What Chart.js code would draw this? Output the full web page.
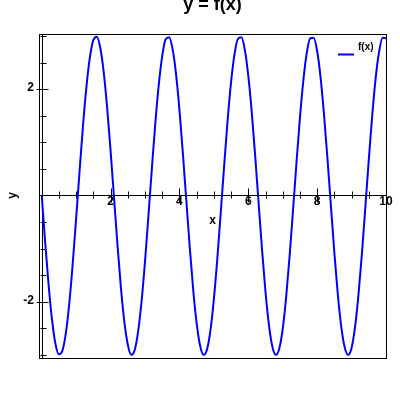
<!DOCTYPE html>
<html>
<head>
<meta charset="utf-8">
<script src="https://cdn.jsdelivr.net/npm/chart.js@4/dist/chart.umd.min.js"></script>
<style>
  html, body { margin: 0; padding: 0; background: #fff; }
</style>
</head>
<body>
<canvas id="plot" width="400" height="400"></canvas>
<script>
// values
const xValues = [
  0, 0.1, 0.2, 0.3, 0.4, 0.5, 0.6, 0.7, 0.8, 0.9,
  1, 1.1, 1.2, 1.3, 1.4, 1.5, 1.6, 1.7, 1.8, 1.9,
  2, 2.1, 2.2, 2.3, 2.4, 2.5, 2.6, 2.7, 2.8, 2.9,
  3, 3.1, 3.2, 3.3, 3.4, 3.5, 3.6, 3.7, 3.8, 3.9,
  4, 4.1, 4.2, 4.3, 4.4, 4.5, 4.6, 4.7, 4.8, 4.9,
  5, 5.1, 5.2, 5.3, 5.4, 5.5, 5.6, 5.7, 5.8, 5.9,
  6, 6.1, 6.2, 6.3, 6.4, 6.5, 6.6, 6.7, 6.8, 6.9,
  7, 7.1, 7.2, 7.3, 7.4, 7.5, 7.6, 7.7, 7.8, 7.9,
  8, 8.1, 8.2, 8.3, 8.4, 8.5, 8.6, 8.7, 8.8, 8.9,
  9, 9.1, 9.2, 9.3, 9.4, 9.5, 9.6, 9.7, 9.8, 9.9,
  10
];
const yValues = [
  0, -0.89, -1.69, -2.35, -2.80, -2.99, -2.92, -2.59, -2.03, -1.28,
  -0.42, 0.47, 1.33, 2.06, 2.61, 2.93, 2.99, 2.78, 2.32, 1.65,
  0.84, -0.05, -0.93, -1.74, -2.38, -2.81, -3.00, -2.91, -2.56, -1.99,
  -1.24, -0.37, 0.52, 1.37, 2.09, 2.63, 2.94, 2.98, 2.76, 2.29,
  1.61, 0.79, -0.10, -0.98, -1.78, -2.41, -2.83, -3.00, -2.90, -2.54,
  -1.95, -1.19, -0.32, 0.57, 1.42, 2.14, 2.66, 2.95, 2.98, 2.74,
  2.25, 1.57, 0.74, -0.15, -1.03, -1.82, -2.44, -2.85, -3.00, -2.88,
  -2.51, -1.91, -1.14, -0.27, 0.62, 1.46, 2.17, 2.69, 2.96, 2.97,
  2.72, 2.22, 1.52, 0.69, -0.20, -1.08, -1.86, -2.47, -2.86, -3.00,
  -2.87, -2.48, -1.87, -1.10, -0.22, 0.67, 1.51, 2.21, 2.71, 2.97,
  2.96
];
const xTickLabels = [2, 4, 6, 8, 10];
const yTickLabels = [2, -2];
const seriesName = "f(x)";
const chartTitle = "y = f(x)";
const xAxisTitle = "x";
const yAxisTitle = "y";

const FONT = '"Liberation Sans", Arial, sans-serif';

// axes cross at the origin, ticks go through the axis line
const crossAxes = {
  id: "crossAxes",
  beforeDatasetsDraw(chart) {
    const ctx = chart.ctx;
    const a = chart.chartArea;
    const xs = chart.scales.x;
    const ys = chart.scales.y;
    const x0 = Math.round(xs.getPixelForValue(0)) + 0.5;
    const y0 = Math.round(ys.getPixelForValue(0)) + 0.5;

    ctx.save();
    ctx.strokeStyle = "#000";
    ctx.lineWidth = 1;
    ctx.strokeRect(Math.round(a.left) + 0.5, Math.round(a.top) + 0.5,
      Math.round(a.right - a.left), Math.round(a.bottom - a.top));

    ctx.beginPath();
    ctx.moveTo(x0, a.top);
    ctx.lineTo(x0, a.bottom);
    ctx.moveTo(a.left, y0);
    ctx.lineTo(a.right, y0);

    // minor ticks every 0.5
    for (let v = 0.5; v <= xs.max + 1e-9; v += 0.5) {
      const px = Math.round(xs.getPixelForValue(v)) + 0.5;
      const big = xTickLabels.includes(v);
      ctx.moveTo(px, y0 - (big ? 7 : 4));
      ctx.lineTo(px, y0 + (big ? 7 : 3));
    }
    for (let v = -3; v <= ys.max + 1e-9; v += 0.5) {
      if (v < ys.min || v === 0) continue;
      const py = Math.round(ys.getPixelForValue(v)) + 0.5;
      const big = yTickLabels.includes(v);
      ctx.moveTo(x0 - (big ? 6 : 2), py);
      ctx.lineTo(x0 + (big ? 6 : 4), py);
    }
    ctx.stroke();
    ctx.restore();
  },
  afterDraw(chart) {
    const ctx = chart.ctx;
    const a = chart.chartArea;
    const xs = chart.scales.x;
    const ys = chart.scales.y;
    const y0 = ys.getPixelForValue(0);
    const midX = (a.left + a.right) / 2;

    ctx.save();
    ctx.fillStyle = "#000";
    ctx.font = "bold 12px " + FONT;
    ctx.textAlign = "center";
    ctx.textBaseline = "alphabetic";
    xTickLabels.forEach(v => {
      ctx.fillText(String(v), xs.getPixelForValue(v), y0 + 10);
    });
    ctx.textAlign = "right";
    yTickLabels.forEach(v => {
      ctx.fillText(String(v), 34, ys.getPixelForValue(v) + 2);
    });

    // axis titles
    ctx.textAlign = "center";
    ctx.fillText(xAxisTitle, midX, y0 + 29);
    ctx.save();
    ctx.translate(16, y0);
    ctx.rotate(-Math.PI / 2);
    ctx.fillText(yAxisTitle, 0, 0);
    ctx.restore();

    // title, cut at the top edge like the reference
    ctx.font = "bold 18px " + FONT;
    ctx.fillText(chartTitle, midX, 9.5);

    // legend inside the plot, top right
    const ds = chart.data.datasets[0];
    ctx.strokeStyle = ds.borderColor;
    ctx.lineWidth = 2;
    ctx.beginPath();
    ctx.moveTo(338, 54.5);
    ctx.lineTo(354, 54.5);
    ctx.stroke();
    ctx.font = "bold 10px " + FONT;
    ctx.textAlign = "left";
    ctx.fillText(ds.label, 358, 50);
    ctx.restore();
  }
};

new Chart(document.getElementById("plot"), {
  type: "line",
  data: {
    datasets: [{
      label: seriesName,
      data: xValues.map((x, i) => ({ x: x, y: yValues[i] })),
      borderColor: "#0000ff",
      borderWidth: 2,
      pointRadius: 0,
      cubicInterpolationMode: "monotone",
      fill: false
    }]
  },
  options: {
    responsive: false,
    animation: false,
    layout: { padding: { left: 39, right: 14, top: 34, bottom: 42 } },
    plugins: {
      legend: { display: false },
      title: { display: false },
      tooltip: { enabled: false }
    },
    scales: {
      x: { type: "linear", min: -0.08, max: 10, display: false },
      y: { type: "linear", min: -3.06, max: 3.04, display: false }
    }
  },
  plugins: [crossAxes]
});
</script>
</body>
</html>
